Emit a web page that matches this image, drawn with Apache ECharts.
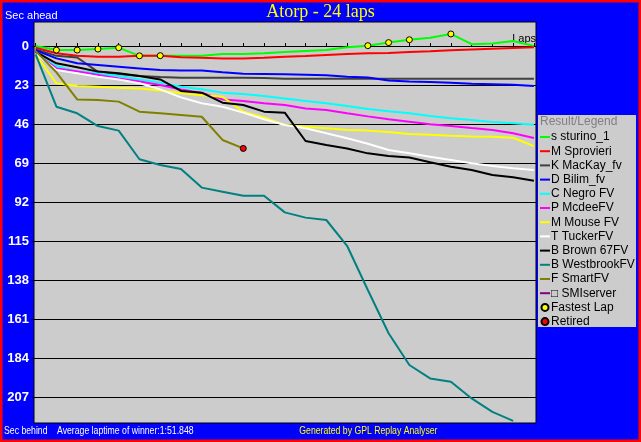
<!DOCTYPE html>
<html>
<head>
<meta charset="utf-8">
<title>Atorp - 24 laps</title>
<script src="https://cdn.jsdelivr.net/npm/echarts@6/dist/echarts.min.js"></script>
<style>
    html, body {margin: 0; padding: 0; background: #0000ff;}
    #lap-chart {width: 641px; height: 442px;}
</style>
</head>
<body>
<div id="lap-chart"></div>
<script>
// 每圈领先/落后秒数（相对冠军平均圈速）
var laps = [0, 1, 2, 3, 4, 5, 6, 7, 8, 9, 10, 11, 12, 13, 14, 15, 16, 17, 18, 19, 20, 21, 22, 23, 24];
var yTicks = [0, 23, 46, 69, 92, 115, 138, 161, 184, 207];

var drivers = ['s sturino_1', 'M Sprovieri', 'K MacKay_fv', 'D Bilim_fv', 'C Negro FV', 'P McdeeFV',
    'M Mouse FV', 'T TuckerFV', 'B Brown 67FV', 'B WestbrookFV', 'F SmartFV', '□ SMIserver'];
var colors = ['#00ff00', '#ff0000', '#404040', '#0000ff', '#00ffff', '#ff00ff',
    '#ffff00', '#ffffff', '#000000', '#008080', '#808000', '#800080'];

var sturino = [0, 2.4, 2.4, 1.8, 1.0, 5.8, 5.7, 5.7, 5.7, 4.7, 4.7, 4.3, 3.5, 2.9, 2.4, 0.8, -0.2, -2.0, -3.7, -4.9, -7.1, -1.1, -1.5, -2.9, 0];
var sprovieri = [1.0, 4.3, 5.7, 6.3, 6.3, 5.7, 5.7, 6.7, 6.9, 7.3, 7.3, 6.9, 6.3, 5.9, 5.3, 4.7, 4.3, 4.1, 3.5, 3.1, 2.5, 2.0, 1.6, 1.2, 0.8];
var mackay = [2.0, 5.8, 6.8, 15.3, 16.5, 17.7, 18.3, 18.7, 18.7, 18.7, 18.7, 18.9, 19.3, 19.3, 19.3, 19.3, 19.3, 19.3, 19.3, 19.3, 19.3, 19.3, 19.3, 19.3, 19.3];
var bilim = [2.5, 7.3, 10.2, 11.2, 12.2, 13.2, 14.2, 14.5, 14.5, 15.5, 16.3, 16.5, 16.7, 16.9, 17.3, 18.1, 18.6, 20.4, 21.0, 21.2, 21.6, 22.3, 22.5, 22.8, 23.6];
var negro = [4.5, 11.8, 15.1, 16.1, 17.7, 19.7, 21.6, 24.0, 25.5, 27.5, 28.3, 29.5, 30.9, 32.4, 33.8, 35.4, 37.2, 38.5, 39.7, 41.3, 42.6, 43.6, 44.8, 45.6, 46.4];
var mcdee = [4.5, 13.2, 15.1, 17.1, 19.1, 21.0, 23.0, 25.6, 27.7, 31.5, 32.4, 33.8, 34.8, 36.8, 37.7, 39.7, 41.5, 43.2, 44.6, 46.2, 47.2, 48.4, 49.5, 51.5, 54.3];
var mouse = [5.0, 22.0, 23.6, 24.0, 24.6, 25.0, 26.3, 27.9, 29.1, 29.9, 38.7, 42.1, 46.6, 47.6, 48.5, 49.5, 49.9, 50.7, 51.9, 52.3, 52.9, 53.3, 53.5, 54.1, 59.0];
var tucker = [4.5, 14.2, 16.1, 18.1, 19.7, 22.0, 25.6, 30.3, 33.8, 35.8, 39.3, 43.2, 46.6, 48.5, 51.5, 54.4, 57.6, 61.3, 63.3, 65.3, 67.2, 69.2, 70.8, 72.1, 73.1];
var brown = [3.5, 10.2, 12.5, 15.1, 16.1, 17.7, 19.7, 26.5, 27.5, 33.4, 34.8, 38.7, 39.3, 56.0, 58.4, 60.4, 63.3, 64.9, 65.7, 68.6, 71.2, 73.1, 76.1, 77.4, 79.4];
var westbrook = [5.0, 35.8, 39.7, 47.2, 49.9, 66.8, 70.2, 72.5, 83.5, 85.9, 88.3, 88.3, 98.1, 101.2, 102.6, 117.8, 143.9, 169.4, 188.1, 196.0, 198.0, 207.8, 215.7, 221.0];
var smart = [3.0, 15.5, 31.5, 31.8, 32.8, 38.7, 39.7, 40.7, 41.7, 55.4, 60.4];
var smiserver = [];

var fastestLaps = [1, 2, 3, 4, 5, 6, 16, 17, 18, 20];
var retiredLap = 10;

LapChart();

function pairs(values) {
    var out = [];
    for (var i = 0; i < values.length; i++) {
        out.push([laps[i], values[i]]);
    }
    return out;
}

function LapChart() {
    var myChart = echarts.init(document.getElementById('lap-chart'));
    var allData = [sturino, sprovieri, mackay, bilim, negro, mcdee, mouse, tucker, brown, westbrook, smart, smiserver];

    var series = [];
    var legendData = [];
    for (var n = 0; n < drivers.length; n++) {
        series.push({
            name: drivers[n],
            type: 'line',
            symbol: 'none',
            color: colors[n],
            lineStyle: {color: colors[n], width: 2},
            data: pairs(allData[n])
        });
        // 图例只画一小段线
        legendData.push({name: drivers[n], icon: 'path://M0,0h10v2h-10z'});
    }

    // 最快圈标记（画在领先者线上）
    var fastData = [];
    for (var f = 0; f < fastestLaps.length; f++) {
        fastData.push([fastestLaps[f], sturino[fastestLaps[f]]]);
    }
    series.push({
        name: 'Fastest Lap',
        type: 'scatter',
        symbol: 'circle',
        symbolSize: 6,
        z: 5,
        itemStyle: {color: '#ffff00', borderColor: '#000', borderWidth: 1, opacity: 1},
        data: fastData
    });
    series.push({
        name: 'Retired',
        type: 'scatter',
        symbol: 'circle',
        symbolSize: 6,
        z: 5,
        itemStyle: {color: '#ff0000', borderColor: '#000', borderWidth: 1, opacity: 1},
        data: [[retiredLap, smart[retiredLap]]]
    });
    legendData.push({name: 'Fastest Lap'}, {name: 'Retired'});

    var narrowFont = '11px "Liberation Sans"';

    var option = {
        animation: false,
        backgroundColor: '#0000ff',
        title: {
            text: 'Atorp - 24 laps',
            left: 'center',
            top: 3,
            padding: 0,
            textStyle: {
                color: '#ffff00',
                fontFamily: 'Liberation Serif',
                fontWeight: 'normal',
                fontSize: 18
            }
        },
        grid: {
            left: 34,
            right: 105,
            top: 22,
            bottom: 19,
            show: true,
            backgroundColor: '#cccccc',
            borderColor: '#000',
            borderWidth: 1
        },
        legend: {
            data: legendData,
            orient: 'vertical',
            left: 540,
            top: 130,
            padding: 0,
            itemGap: 0.2,
            itemWidth: 10,
            itemHeight: 7,
            symbolKeepAspect: true,
            selectedMode: false,
            textStyle: {
                color: '#000',
                fontFamily: 'Liberation Sans',
                fontSize: 12,
                lineHeight: 14,
                padding: [0, 0, 0, -4]
            }
        },
        xAxis: {
            type: 'value',
            min: -0.08,
            max: 24.1,
            axisLine: {onZero: true, lineStyle: {color: '#000', width: 1}},
            axisTick: {show: true, inside: true, length: 3, customValues: laps, lineStyle: {color: '#000'}},
            axisLabel: {show: false},
            splitLine: {show: false}
        },
        yAxis: {
            type: 'value',
            inverse: true,
            min: -14.15,
            max: 222.3,
            axisLine: {show: false},
            axisTick: {show: true, length: 4, customValues: yTicks, lineStyle: {color: '#000'}},
            axisLabel: {
                customValues: yTicks,
                color: '#fff',
                fontFamily: 'Liberation Sans',
                fontWeight: 'bold',
                fontSize: 13,
                margin: 5,
                padding: [2, 0, 0, 0]
            },
            splitLine: {show: true, lineStyle: {color: '#000', width: 1}}
        },
        graphic: [
            {
                type: 'rect',
                z: 1,
                shape: {x: 538, y: 115, width: 98, height: 212},
                style: {fill: '#cccccc'}
            },
            {
                type: 'text',
                z: 2,
                x: 540, y: 122,
                style: {text: 'Result/Legend', fill: '#808080', font: '12px "Liberation Sans"', verticalAlign: 'middle'}
            },
            {
                type: 'text',
                z: 1,
                x: 536, y: 39,
                style: {text: 'Laps', fill: '#000', font: '11px "Liberation Sans"', align: 'right', verticalAlign: 'middle'}
            },
            {
                type: 'text',
                x: 5, y: 15.5,
                style: {text: 'Sec ahead', fill: '#fff', font: '11px "Liberation Sans"', verticalAlign: 'middle'}
            },
            // 底部说明文字较窄，横向压缩
            {
                type: 'text',
                x: 4, y: 430.5, scaleX: 0.79,
                style: {text: 'Sec behind', fill: '#fff', font: narrowFont, verticalAlign: 'middle'}
            },
            {
                type: 'text',
                x: 57, y: 430.5, scaleX: 0.79,
                style: {text: 'Average laptime of winner:1:51.848', fill: '#fff', font: narrowFont, verticalAlign: 'middle'}
            },
            {
                type: 'text',
                x: 437.5, y: 430.5, scaleX: 0.79,
                style: {text: 'Generated by GPL Replay Analyser', fill: '#ffff00', font: narrowFont, align: 'right', verticalAlign: 'middle'}
            },
            {
                type: 'rect',
                z: 10,
                shape: {x: 0, y: 0, width: 641, height: 442},
                style: {fill: 'none', stroke: '#ff0000', lineWidth: 5}
            }
        ],
        series: series
    };

    myChart.setOption(option);
}
</script>
</body>
</html>
